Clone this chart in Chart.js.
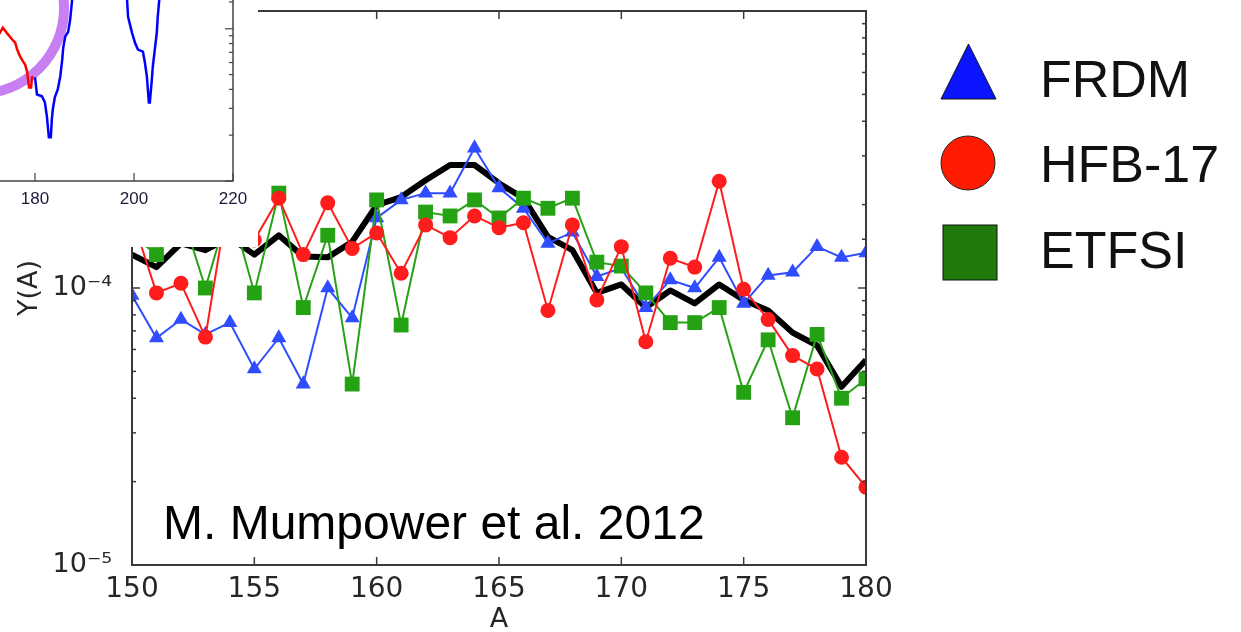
<!DOCTYPE html>
<html>
<head>
<meta charset="utf-8">
<script src="https://cdn.jsdelivr.net/npm/chart.js@4/dist/chart.umd.min.js"></script>
<style>
  html, body { margin: 0; padding: 0; background: #fff; }
  #wrap { position: relative; width: 1241px; height: 632px; overflow: hidden; background: #fff; }
  #main { position: absolute; left: 0; top: 0; }
  #inset { position: absolute; left: -100px; top: -60px; }
  #credit { position: absolute; left: 163px; top: 499px; font-family: "Liberation Sans", Arial, sans-serif;
            font-size: 48px; line-height: 48px; color: #000; white-space: nowrap; }
  .leg { position: absolute; left: 1040px; font-family: "Liberation Sans", Arial, sans-serif;
         font-size: 52px; line-height: 52px; color: #111; white-space: nowrap; }
  #legmarks { position: absolute; left: 930px; top: 30px; }
</style>
</head>
<body>
<div id="wrap">
  <canvas id="main" width="1241" height="632"></canvas>
  <div id="credit">M. Mumpower et al. 2012</div>
  <canvas id="inset" width="358" height="307"></canvas>
  <svg id="legmarks" width="80" height="270">
    <polygon points="11,69 66,69 38.5,14" fill="#0a14ff" stroke="#111" stroke-width="1"/>
    <circle cx="38" cy="133" r="27" fill="#ff1a00" stroke="#222" stroke-width="1"/>
    <rect x="13" y="195" width="54" height="55" fill="#1d7a0b" stroke="#111" stroke-width="1"/>
  </svg>
  <div class="leg" style="top:53px">FRDM</div>
  <div class="leg" style="top:138px">HFB-17</div>
  <div class="leg" style="top:224px">ETFSI</div>
</div>
<script>
// mass number A
const massNumber = [150, 151, 152, 153, 154, 155, 156, 157, 158, 159, 160,
                    161, 162, 163, 164, 165, 166, 167, 168, 169, 170,
                    171, 172, 173, 174, 175, 176, 177, 178, 179, 180];

const frdm = [9.4e-5, 6.6e-5, 7.7e-5, 6.8e-5, 7.5e-5, 5.1e-5, 6.6e-5, 4.5e-5, 1.0e-4, 7.8e-5, 1.79e-4,
              2.08e-4, 2.2e-4, 2.2e-4, 3.2e-4, 2.3e-4, 1.94e-4, 1.45e-4, 1.59e-4, 1.1e-4, 1.18e-4,
              8.5e-5, 1.07e-4, 1.0e-4, 1.29e-4, 8.8e-5, 1.11e-4, 1.14e-4, 1.41e-4, 1.29e-4, 1.34e-4];

const hfb17 = [1.8e-4, 9.6e-5, 1.04e-4, 6.65e-5, 2.3e-4, 1.49e-4, 2.11e-4, 1.32e-4, 2.03e-4, 1.39e-4, 1.58e-4,
               1.13e-4, 1.69e-4, 1.52e-4, 1.82e-4, 1.65e-4, 1.72e-4, 8.3e-5, 1.69e-4, 9.05e-5, 1.41e-4,
               6.4e-5, 1.28e-4, 1.19e-4, 2.43e-4, 9.9e-5, 7.7e-5, 5.7e-5, 5.1e-5, 2.45e-5, 1.91e-5];

const etfsi = [1.55e-4, 1.32e-4, 1.91e-4, 1.0e-4, 2.0e-4, 9.6e-5, 2.2e-4, 8.5e-5, 1.55e-4, 4.5e-5, 2.08e-4,
               7.35e-5, 1.88e-4, 1.82e-4, 2.08e-4, 1.79e-4, 2.11e-4, 1.94e-4, 2.11e-4, 1.24e-4, 1.2e-4,
               9.6e-5, 7.5e-5, 7.5e-5, 8.5e-5, 4.2e-5, 6.5e-5, 3.4e-5, 6.8e-5, 4.0e-5, 4.7e-5];

// thick black curve (no legend entry)
const baseline = [1.32e-4, 1.19e-4, 1.45e-4, 1.37e-4, 1.52e-4, 1.32e-4, 1.55e-4, 1.30e-4, 1.29e-4, 1.47e-4, 1.99e-4,
                  2.13e-4, 2.45e-4, 2.78e-4, 2.78e-4, 2.39e-4, 2.11e-4, 1.53e-4, 1.37e-4, 9.6e-5, 1.03e-4,
                  8.5e-5, 9.8e-5, 8.8e-5, 1.03e-4, 9.05e-5, 8.3e-5, 6.9e-5, 6.2e-5, 4.4e-5, 5.5e-5];

const yTickLabels = { '-5': '10\u207B\u2075', '-4': '10\u207B\u2074', '-3': '10\u207B\u00B3' };

// inset curve (partly out of view)
const insetRedA = [172, 172.9, 173.5, 174.3, 175.4, 176.0, 176.4, 177.0, 177.6, 178.0, 178.4, 178.8, 179.2, 179.4, 179.6];
const insetRedY = [1.0e-3, 9.4e-4, 1.015e-3, 9.4e-4, 8.5e-4, 8.1e-4, 7.3e-4, 6.56e-4, 6.08e-4, 5.82e-4, 5.24e-4, 4.11e-4, 4.11e-4, 4.79e-4, 4.86e-4];
const insetBlueA = [180.0, 180.4, 181.4, 182.0, 182.4, 182.8, 183.2, 183.4, 183.6, 184.0,
                    184.6, 185.1, 185.5, 185.7, 186.1, 186.7, 187.1, 187.5, 189, 193, 197,
                    198.6, 198.8, 199.6, 200.2, 200.8, 201.8, 202.2, 202.6, 202.8, 203.0,
                    203.2, 203.6, 203.8, 204.2, 204.6, 204.8, 205.1, 206.5];
const insetBlueY = [4.79e-4, 3.7e-4, 3.6e-4, 3.28e-4, 2.66e-4, 1.94e-4, 1.94e-4, 2.54e-4, 2.96e-4, 3.54e-4,
                    3.99e-4, 4.86e-4, 6.27e-4, 7.5e-4, 8.87e-4, 9.56e-4, 1.145e-3, 1.55e-3, 3.5e-3, 4.5e-3, 3.5e-3,
                    1.55e-3, 1.2e-3, 9.4e-4, 8.1e-4, 7.3e-4, 7.07e-4, 6.0e-4, 4.86e-4, 3.99e-4, 3.28e-4,
                    3.28e-4, 4.64e-4, 5.65e-4, 7.3e-4, 9.4e-4, 1.2e-3, 1.55e-3, 3.5e-3];

const pts = (xs, ys) => xs.map((x, i) => ({ x: x, y: ys[i] }));
const isDecade = v => { const e = Math.log10(v); return Math.abs(e - Math.round(e)) < 1e-6; };

function line(ctx, x1, y1, x2, y2) {
  ctx.beginPath(); ctx.moveTo(x1, y1); ctx.lineTo(x2, y2); ctx.stroke();
}

// matplotlib style box with inward ticks
const boxTicks = {
  id: 'boxTicks',
  afterDraw(chart, args, opts) {
    const { ctx, chartArea: a, scales: { x, y } } = chart;
    ctx.save();
    ctx.strokeStyle = opts.color;
    ctx.lineWidth = opts.tickWidth;
    x.ticks.forEach(t => {
      const px = x.getPixelForValue(t.value);
      line(ctx, px, a.bottom, px, a.bottom - opts.major);
      line(ctx, px, a.top, px, a.top + opts.major);
    });
    y.ticks.forEach(t => {
      const py = y.getPixelForValue(t.value);
      const len = isDecade(t.value) ? opts.major : opts.minor;
      line(ctx, a.left, py, a.left + len, py);
      line(ctx, a.right, py, a.right - len, py);
    });
    ctx.lineWidth = opts.frameWidth;
    ctx.strokeRect(a.left, a.top, a.right - a.left, a.bottom - a.top);
    ctx.restore();
  }
};

const tickFont = { family: 'DejaVu Sans', size: 28 };

new Chart(document.getElementById('main'), {
  type: 'line',
  data: {
    datasets: [
      { label: 'HFB-17', data: pts(massNumber, hfb17), borderColor: '#ff1c1c', backgroundColor: '#ff1c1c',
        borderWidth: 2, pointStyle: 'circle', pointRadius: 7.5, pointBorderWidth: 0, clip: 0 },
      { label: 'ETFSI', data: pts(massNumber, etfsi), borderColor: '#25a214', backgroundColor: '#25a214',
        borderWidth: 2, pointStyle: 'rect', pointRadius: 10.5, pointBorderWidth: 0, clip: 0 },
      { label: 'FRDM', data: pts(massNumber, frdm), borderColor: '#2f4dff', backgroundColor: '#2f4dff',
        borderWidth: 2, pointStyle: 'triangle', pointRadius: 8.7, pointBorderWidth: 0, clip: 0 },
      { label: 'total', data: pts(massNumber, baseline), borderColor: '#000', borderWidth: 6,
        borderJoinStyle: 'round', pointRadius: 0, clip: 0 }
    ]
  },
  options: {
    responsive: false,
    animation: false,
    events: [],
    devicePixelRatio: 1,
    layout: { padding: { top: 11, right: 375, left: 0, bottom: 0 } },
    scales: {
      x: {
        type: 'linear', min: 150, max: 180,
        grid: { display: false }, border: { display: false },
        ticks: { stepSize: 5, padding: 0, font: tickFont, color: '#262626' },
        title: { display: true, text: 'A', font: { family: 'DejaVu Sans', size: 27 }, color: '#262626',
                 padding: { top: 0, bottom: -4 } },
        afterFit: s => { s.height = 67; s.paddingLeft = 0; s.paddingRight = 0; }
      },
      y: {
        type: 'logarithmic', min: 1e-5, max: 1e-3,
        grid: { display: false }, border: { display: false },
        ticks: {
          autoSkip: false, padding: 12, font: { family: 'DejaVu Sans', size: 27 }, color: '#262626',
          callback: v => isDecade(v) ? yTickLabels[Math.round(Math.log10(v))] : ''
        },
        title: { display: true, text: 'Y(A)', font: { family: 'DejaVu Sans', size: 27 }, color: '#262626',
                 padding: { top: 14, bottom: 0 } },
        afterFit: s => { s.width = 132; s.paddingTop = 0; s.paddingBottom = 0; }
      }
    },
    plugins: {
      legend: { display: false },
      tooltip: { enabled: false },
      boxTicks: { color: '#3a3a3a', tickWidth: 1.5, frameWidth: 2, major: 8, minor: 4 }
    }
  },
  plugins: [boxTicks]
});

// inset: white panel, purple highlight ring
const insetDecor = {
  id: 'insetDecor',
  beforeDraw(chart) {
    const { ctx, width, height } = chart;
    ctx.save(); ctx.fillStyle = '#fff'; ctx.fillRect(0, 0, width, height); ctx.restore();
  },
  beforeDatasetsDraw(chart, args, opts) {
    const { ctx, scales: { x, y } } = chart;
    ctx.save();
    ctx.strokeStyle = opts.color;
    ctx.lineWidth = opts.width;
    ctx.beginPath();
    ctx.arc(x.getPixelForValue(opts.a), y.getPixelForValue(opts.y), opts.r, 0, Math.PI * 2);
    ctx.stroke();
    ctx.restore();
  }
};

new Chart(document.getElementById('inset'), {
  type: 'line',
  data: {
    datasets: [
      { data: pts(insetRedA, insetRedY), borderColor: '#ff0000', borderWidth: 2.5, pointRadius: 0, clip: 0 },
      { data: pts(insetBlueA, insetBlueY), borderColor: '#0000ff', borderWidth: 2.5, pointRadius: 0, clip: 0 }
    ]
  },
  options: {
    responsive: false,
    animation: false,
    events: [],
    devicePixelRatio: 1,
    layout: { padding: { top: 20, right: 25, left: 0, bottom: 0 } },
    scales: {
      x: {
        type: 'linear', min: 160, max: 220,
        grid: { display: false }, border: { display: false },
        ticks: { stepSize: 20, padding: 0, font: { family: 'Liberation Sans', size: 17 }, color: '#1c1c3c' },
        afterFit: s => { s.height = 66; s.paddingLeft = 0; s.paddingRight = 0; }
      },
      y: {
        type: 'logarithmic', min: 1e-4, max: 2.83e-3,
        grid: { display: false }, border: { display: false },
        ticks: { display: false, autoSkip: false },
        afterFit: s => { s.width = 36; s.paddingTop = 0; s.paddingBottom = 0; }
      }
    },
    plugins: {
      legend: { display: false },
      tooltip: { enabled: false },
      insetDecor: { color: '#c77ff2', width: 10, a: 168.5, y: 1.37e-3, r: 86 },
      boxTicks: { color: '#444', tickWidth: 1.2, frameWidth: 1.5, major: 8, minor: 4 }
    }
  },
  plugins: [insetDecor, boxTicks]
});
</script>
</body>
</html>
